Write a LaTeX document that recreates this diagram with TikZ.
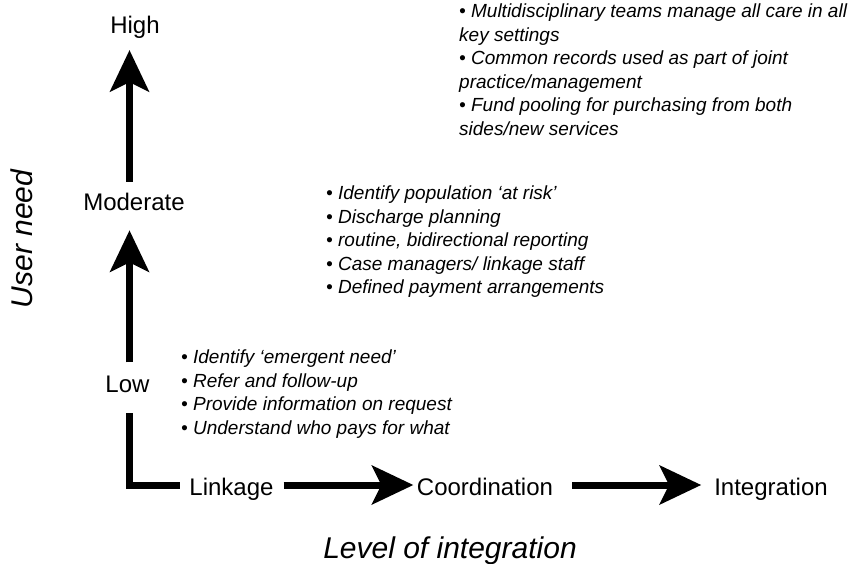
\documentclass[tikz,border=0pt]{standalone}
\usepackage{fontspec}
\setmainfont{Liberation Sans}
\usetikzlibrary{arrows.meta}

\tikzset{
  level/.style={font=\fontsize{24}{28}\selectfont, inner sep=0pt},
  axistitle/.style={font=\fontsize{30}{36}\selectfont\itshape, inner sep=0pt},
  notes/.style={font=\fontsize{19}{23.5}\selectfont\itshape, align=left, inner sep=0pt, anchor=north west},
  thickline/.style={line width=7pt},
  bigarrow/.style={thickline, -{Stealth[length=42pt, width=40pt, inset=10pt, line width=0pt]}},
}

\begin{document}
\begin{tikzpicture}[x=1pt, y=-1pt]
\useasboundingbox (0,0) rectangle (855,563);

% corner of the two axes
\coordinate (origin) at (129.5,485);

% levels of user need
\node[level, anchor=base] (high) at (135,33) {High};
\node[level, anchor=base] (moderate) at (134,210) {Moderate};
\node[level, anchor=base] (low) at (127.5,392) {Low};

% levels of integration
\node[level, anchor=base] (linkage) at (231.5,495) {Linkage};
\node[level, anchor=base] (coordination) at (485,495) {Coordination};
\node[level, anchor=base] (integration) at (771,495) {Integration};

% axis titles
\node[axistitle, rotate=90] (userneed) at (21.5,239) {User need};
\node[axistitle, anchor=base] (levelint) at (450,558) {Level of integration};

% vertical arrows
\draw[bigarrow, shorten <=10.8pt, shorten >=12pt] (moderate.north -| origin) -- (high.south -| origin);
\draw[bigarrow, shorten <=12.8pt, shorten >=20pt] (low.north -| origin) -- (moderate.south -| origin);

% the corner
\draw[thickline, shorten <=21pt, shorten >=9pt] (low.south -| origin) -- (origin) -- (linkage.west |- origin);

% horizontal arrows
\draw[bigarrow, shorten <=10pt, shorten >=3.5pt] (linkage.east |- origin) -- (coordination.west |- origin);
\draw[bigarrow, shorten <=19pt, shorten >=13pt] (coordination.east |- origin) -- (integration.west |- origin);

% what each level involves
\node[notes] (linknotes) at (181,350) {%
• Identify `emergent need'\\
• Refer and follow-up\\
• Provide information on request\\
• Understand who pays for what};

\node[notes] (coordnotes) at (326,186) {%
• Identify population `at risk'\\
• Discharge planning\\
• routine, bidirectional reporting\\
• Case managers/ linkage staff\\
• Defined payment arrangements};

\node[notes] (intnotes) at (459,4) {%
• Multidisciplinary teams manage all care in all\\
key settings\\
• Common records used as part of joint\\
practice/management\\
• Fund pooling for purchasing from both\\
sides/new services};
\end{tikzpicture}
\end{document}
